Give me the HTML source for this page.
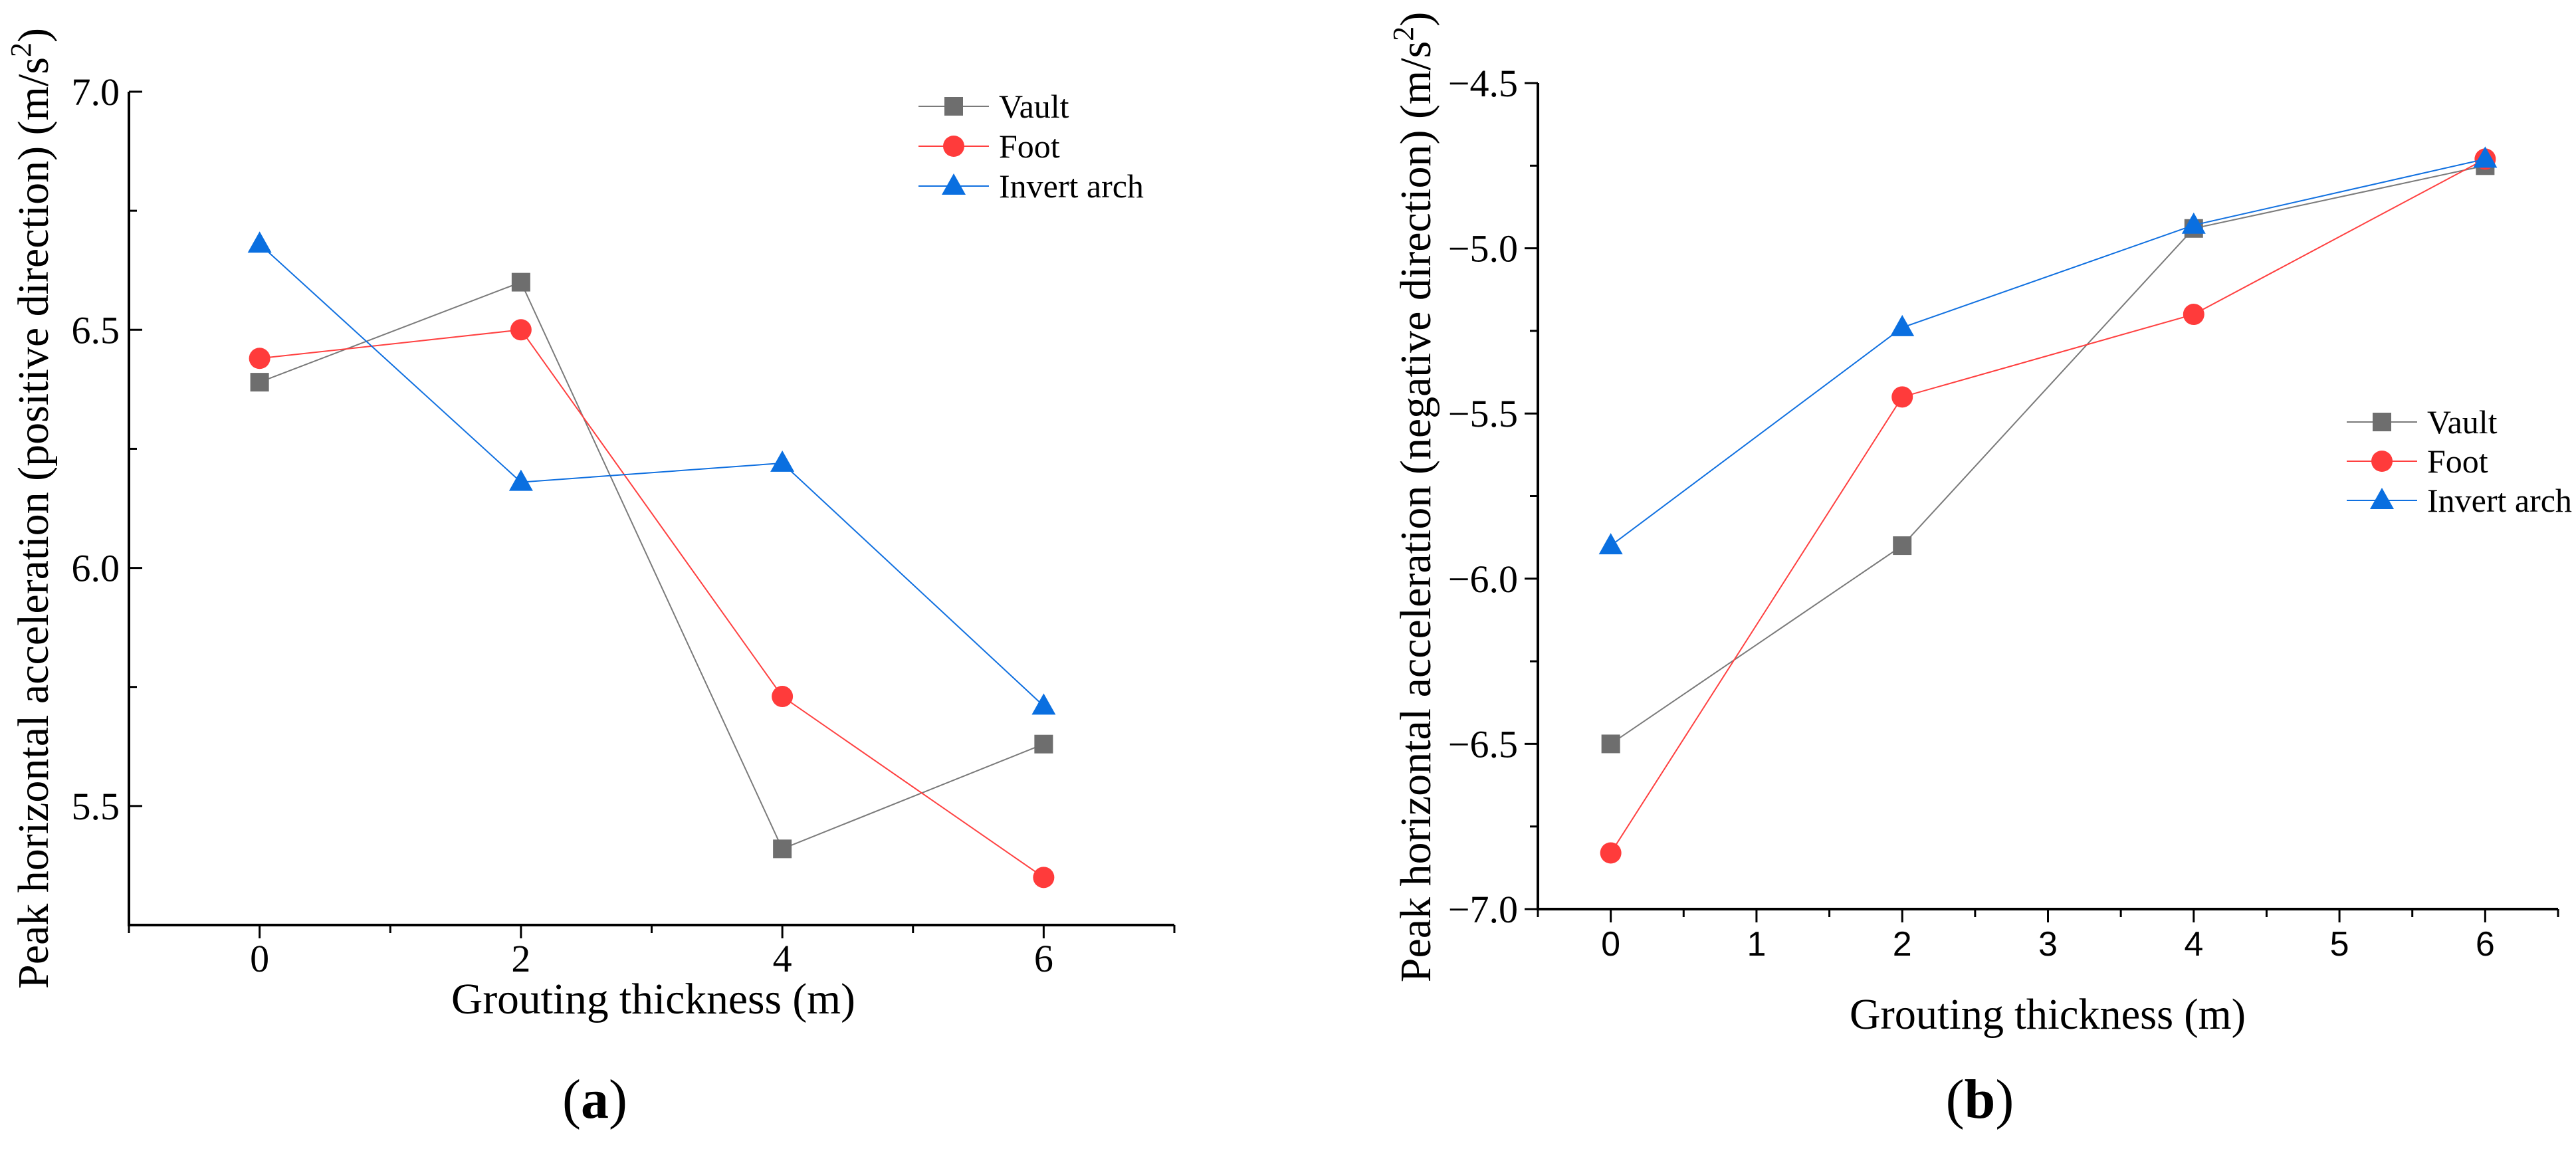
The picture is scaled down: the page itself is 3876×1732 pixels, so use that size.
<!DOCTYPE html>
<html><head><meta charset="utf-8"><style>
html,body{margin:0;padding:0;background:#fff}
svg{display:block}
svg text{font-family:"Liberation Serif",serif;fill:#000}
</style></head><body>
<svg id="fig" width="3876" height="1732" viewBox="0 0 3876 1732" xmlns="http://www.w3.org/2000/svg" font-family="Liberation Serif, serif"></svg>
<script>
const xCats = [0, 2, 4, 6];
const aVault = [6.39, 6.60, 5.41, 5.63];
const aFoot = [6.44, 6.50, 5.73, 5.35];
const aInvert = [6.68, 6.18, 6.22, 5.71];
const aYTicks = ["5.5", "6.0", "6.5", "7.0"];
const aXTicks = ["0", "2", "4", "6"];
const bVault = [-6.50, -5.90, -4.94, -4.75];
const bFoot = [-6.83, -5.45, -5.20, -4.73];
const bInvert = [-5.90, -5.24, -4.93, -4.73];
const bYTicks = ["-7.0", "-6.5", "-6.0", "-5.5", "-5.0", "-4.5"];
const bXTicks = ["0", "1", "2", "3", "4", "5", "6"];
const seriesNames = ["Vault", "Foot", "Invert arch"];

const NS = "http://www.w3.org/2000/svg";
const svg = document.getElementById("fig");
function mk(tag, attrs, parent, txt) {
  const e = document.createElementNS(NS, tag);
  for (const k in attrs) e.setAttribute(k, attrs[k]);
  if (txt !== undefined) e.textContent = txt;
  (parent || svg).appendChild(e);
  return e;
}
const colors = ["#6e6e6e", "#ff3b3b", "#0a6fe0"];
const strokes = ["#7a7a7a", "#ff4040", "#1070e0"];
const SERIF = "Liberation Serif, serif";

function marker(g, kind, cx, cy, name) {
  let m;
  if (kind === 0) m = mk("rect", {x: cx - 14, y: cy - 14, width: 28, height: 28, fill: colors[0]}, g);
  else if (kind === 1) m = mk("circle", {cx: cx, cy: cy, r: 16, fill: colors[1]}, g);
  else m = mk("polygon", {points: `${cx},${cy - 19} ${cx - 18},${cy + 13} ${cx + 18},${cy + 13}`, fill: colors[2]}, g);
  
  
  return m;
}

function chart(cfg) {
  const g = mk("g", {});
  
  
  const X = v => cfg.x0 + (v - cfg.xmin) / (cfg.xmax - cfg.xmin) * (cfg.x1 - cfg.x0);
  const Y = v => cfg.y1 - (v - cfg.ymin) / (cfg.ymax - cfg.ymin) * (cfg.y1 - cfg.y0);
  const ax = mk("path", {d: `M${cfg.x0},${cfg.y0} V${cfg.y1} H${cfg.x1}`, stroke: "#000", "stroke-width": 4, fill: "none"}, g);
  
  
  for (let v = cfg.ymin; v <= cfg.ymax + 1e-9; v += 0.25) {
    const major = Math.abs(Math.round(v * 2) - v * 2) < 1e-6;
    const len = major ? 20 : 12;
    const y = Y(v);
    if (cfg.yIn) mk("line", {x1: cfg.x0, x2: cfg.x0 + len, y1: y, y2: y, stroke: "#000", "stroke-width": 3}, g);
    else mk("line", {x1: cfg.x0, x2: cfg.x0 - len, y1: y, y2: y, stroke: "#000", "stroke-width": 3}, g);
  }
  cfg.yTicks.forEach(s => {
    const v = parseFloat(s);
    const t = mk("text", {x: cfg.x0 - (cfg.yIn ? 14 : 30), y: Y(v) + 20, "text-anchor": "end", "font-size": 58, "font-family": SERIF}, g, s.replace("-", "\u2212"));
    
    
  });
  for (let v = Math.ceil(cfg.xmin / cfg.xminor) * cfg.xminor; v <= cfg.xmax + 1e-9; v += cfg.xminor) {
    const major = Math.abs(v - Math.round(v / cfg.xmajor) * cfg.xmajor) < 1e-6;
    mk("line", {x1: X(v), x2: X(v), y1: cfg.y1, y2: cfg.y1 + (major ? 20 : 12), stroke: "#000", "stroke-width": 3}, g);
  }
  cfg.xTicks.forEach(s => {
    const t = mk("text", {x: X(parseFloat(s)), y: cfg.y1 + 70, "text-anchor": "middle", "font-size": cfg.xSans ? 52 : 58, "font-family": cfg.xSans ? "Liberation Sans, sans-serif" : SERIF}, g, s);
    if (cfg.xSans) t.setAttribute("style", "font-family:'Liberation Sans',sans-serif");
    
    
  });
  cfg.series.forEach((vals, i) => {
    const sg = mk("g", {}, g);
    
    
    const pts = vals.map((v, j) => `${X(xCats[j])},${Y(v)}`).join(" ");
    mk("polyline", {points: pts, fill: "none", stroke: strokes[i], "stroke-width": 2}, sg);
    vals.forEach((v, j) => marker(sg, i, X(xCats[j]), Y(v), 'point'));
  });
  const lg = mk("g", {}, g);
  
  
  seriesNames.forEach((n, i) => {
    const y = cfg.legY + i * cfg.legDy;
    const e = mk("g", {}, lg);
    
    
    mk("line", {x1: cfg.legX, x2: cfg.legX + 106, y1: y, y2: y, stroke: strokes[i], "stroke-width": 2}, e);
    marker(e, i, cfg.legX + 53, y, 'legend-marker');
    mk("text", {x: cfg.legX + 121, y: y + 17, "font-size": 50, "font-family": SERIF}, e, n);
  });
  const xt = mk("text", {x: cfg.xtX, y: cfg.xtY, "text-anchor": "middle", "font-size": 66, "font-family": SERIF, textLength: cfg.xtLen, lengthAdjust: "spacingAndGlyphs"}, g, "Grouting thickness (m)");
  
  
  const yt = mk("text", {x: 0, y: 0, "text-anchor": "middle", "font-size": 66, "font-family": SERIF, transform: `translate(${cfg.ytX},${cfg.ytY}) rotate(-90)`}, g);
  
  
  yt.textContent = cfg.ytText + " (m/s";
  mk("tspan", {dy: -26, "font-size": 44}, yt, "2");
  mk("tspan", {dy: 26}, yt, ")");
  const pl = mk("text", {x: cfg.plX, y: 1682, "text-anchor": "middle", "font-size": 84, "font-family": SERIF}, g);
  
  
  pl.textContent = "(";
  mk("tspan", {"font-weight": "bold"}, pl, cfg.plLetter);
  mk("tspan", {}, pl, ")");
}

chart({name: "chart-a", x0: 194, x1: 1767, y0: 138, y1: 1392, xmin: -1, xmax: 7, ymin: 5.25, ymax: 7.0,
  yIn: true, xminor: 1, xmajor: 2, xTicks: aXTicks, yTicks: aYTicks, series: [aVault, aFoot, aInvert],
  legX: 1382, legY: 160, legDy: 60, xtX: 983, xtY: 1525, xtLen: 608, ytX: 72, ytY: 765,
  ytText: "Peak horizontal acceleration (positive direction)", plX: 895, plLetter: "a"});
chart({name: "chart-b", x0: 2314, x1: 3849, y0: 125, y1: 1368, xmin: -0.5, xmax: 6.5, ymin: -7.0, ymax: -4.5,
  yIn: false, xminor: 0.5, xmajor: 1, xSans: true, xTicks: bXTicks, yTicks: bYTicks, series: [bVault, bFoot, bInvert],
  legX: 3531, legY: 635, legDy: 59, xtX: 3081, xtY: 1548, xtLen: 596, ytX: 2152, ytY: 748,
  ytText: "Peak horizontal acceleration (negative direction)", plX: 2979, plLetter: "b"});
</script>
</body></html>
